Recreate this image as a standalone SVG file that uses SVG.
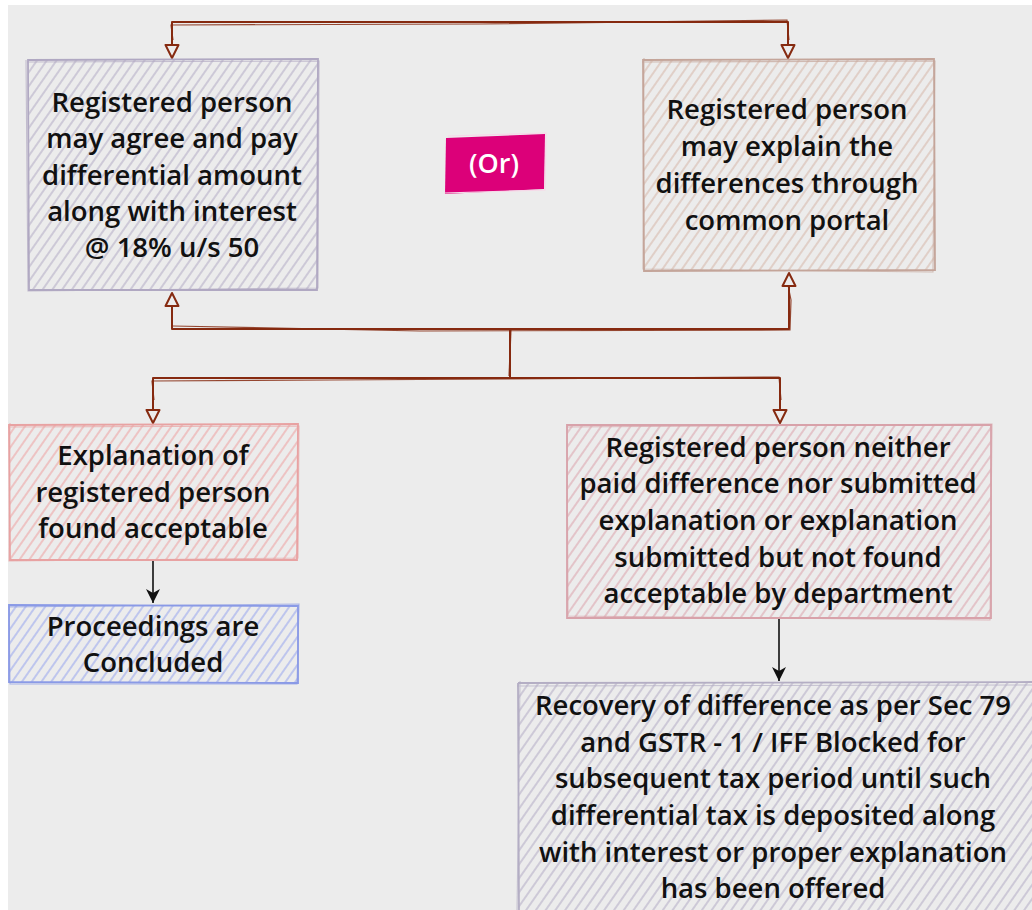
<svg xmlns="http://www.w3.org/2000/svg" width="1032" height="910" viewBox="0 0 1032 910">
  <defs>
    <style>
      .lbl { font-family: "Open Sans", "Noto Sans", sans-serif; font-size: 27.5px; font-weight: 600; fill: #111; text-anchor: middle; }
      .or { font-family: "Open Sans", "Noto Sans", sans-serif; font-size: 27px; font-weight: 600; fill: #fff; text-anchor: middle; }
      .link { fill: none; stroke: #862a10; stroke-width: 2; stroke-linejoin: round; }
      .link2 { fill: none; stroke: #862a10; stroke-width: 1.2; opacity: 0.85; }
      .flow { fill: none; stroke: #111; stroke-width: 1.6; }
      .edge { fill: none; stroke-width: 1.8; }
      .edge2 { fill: none; stroke-width: 1.1; opacity: 0.7; }
    </style>
    <pattern id="hatchGrey" patternUnits="userSpaceOnUse" width="8" height="8" patternTransform="rotate(35)">
      <rect width="8" height="8" fill="#ececec"/>
      <line x1="1" y1="0" x2="1" y2="8" stroke="#b4acc6" stroke-width="1.1"/>
    </pattern>
    <pattern id="hatchBrown" patternUnits="userSpaceOnUse" width="8" height="8" patternTransform="rotate(35)">
      <rect width="8" height="8" fill="#ececec"/>
      <line x1="1" y1="0" x2="1" y2="8" stroke="#d6b8aa" stroke-width="1.1"/>
    </pattern>
    <pattern id="hatchRed" patternUnits="userSpaceOnUse" width="8" height="8" patternTransform="rotate(35)">
      <rect width="8" height="8" fill="#ececec"/>
      <line x1="1" y1="0" x2="1" y2="8" stroke="#eea2a2" stroke-width="1.1"/>
    </pattern>
    <pattern id="hatchRose" patternUnits="userSpaceOnUse" width="8" height="8" patternTransform="rotate(35)">
      <rect width="8" height="8" fill="#ececec"/>
      <line x1="1" y1="0" x2="1" y2="8" stroke="#dca4ac" stroke-width="1.1"/>
    </pattern>
    <pattern id="hatchBlue" patternUnits="userSpaceOnUse" width="8" height="8" patternTransform="rotate(35)">
      <rect width="8" height="8" fill="#ececec"/>
      <line x1="1" y1="0" x2="1" y2="8" stroke="#98a6ee" stroke-width="1.1"/>
    </pattern>
    <marker id="openHead" markerUnits="userSpaceOnUse" markerWidth="18" markerHeight="16" refX="14" refY="8" orient="auto-start-reverse" overflow="visible">
      <path d="M1,1.5 L14,8 L1,14.5 Z" fill="#ececec" stroke="#862a10" stroke-width="2" stroke-linejoin="round"/>
    </marker>
    <marker id="solidHead" markerUnits="userSpaceOnUse" markerWidth="16" markerHeight="16" refX="14" refY="8" orient="auto" overflow="visible">
      <path d="M0,1 L14,8 L0,15 L4,8 Z" fill="#111"/>
    </marker>
  </defs>

  <!-- canvas -->
  <rect x="0" y="0" width="1032" height="910" fill="#ffffff"/>
  <rect x="8" y="5" width="1024" height="905" fill="#ececec"/>

  <!-- connectors -->
  <g id="connectors">
    <!-- top bracket: both options -->
    <path class="link" d="M172,58 L172,22 L788,22 L788,58" marker-start="url(#openHead)" marker-end="url(#openHead)"/>
    <path class="link2" d="M173,40 L171,25 L480,24 L787,20 L789,40"/>
    <!-- middle bracket back to both options -->
    <path class="link" d="M172,293 L172,329 L789,329 L789,273" marker-start="url(#openHead)" marker-end="url(#openHead)"/>
    <path class="link2" d="M173,326 L420,331 L790,330 L791,300 L788,285"/>
    <path class="link" d="M510,329 L510,378"/>
    <path class="link2" d="M511,330 L509,376"/>
    <!-- split to outcomes -->
    <path class="link" d="M153,423 L153,378 L780,378 L780,423" marker-start="url(#openHead)" marker-end="url(#openHead)"/>
    <path class="link2" d="M154,400 L152,381 L330,380 L779,377 L781,400"/>
    <!-- outcome flows -->
    <path class="flow" d="M153,561 L153,603" marker-end="url(#solidHead)"/>
    <path class="flow" d="M779,619 L779,681" marker-end="url(#solidHead)"/>
  </g>

  <!-- option 1: pay -->
  <g id="node-pay">
    <rect x="28" y="60" width="290" height="230" fill="url(#hatchGrey)"/>
    <path class="edge" stroke="#b0a8c2" d="M28,60 L318,59 L317,290 L29,290 Z"/>
    <path class="edge2" stroke="#b0a8c2" d="M27,62 L319,61 L318,288 L28,291 L26,60"/>
    <text class="lbl" x="172" y="112">Registered person</text>
    <text class="lbl" x="172" y="148">may agree and pay</text>
    <text class="lbl" x="172" y="185">differential amount</text>
    <text class="lbl" x="172" y="221">along with interest</text>
    <text class="lbl" x="172" y="257">@ 18% u/s 50</text>
  </g>

  <!-- separator badge -->
  <g id="node-or">
    <path d="M446,138 L545,134 L544,189 L445,194 Z" fill="#dc0079"/>
    <path d="M448,136 L546,133 L545,190 L444,193" fill="none" stroke="#f6d8e8" stroke-width="1.2"/>
    <text class="or" x="494" y="173">(Or)</text>
  </g>

  <!-- option 2: explain -->
  <g id="node-explain">
    <rect x="643" y="60" width="291" height="211" fill="url(#hatchBrown)"/>
    <path class="edge" stroke="#c4a59a" d="M643,60 L934,59 L935,270 L644,271 Z"/>
    <path class="edge2" stroke="#c4a59a" d="M642,62 L935,61 L933,272 L643,269 L644,58"/>
    <text class="lbl" x="787" y="119">Registered person</text>
    <text class="lbl" x="787" y="156">may explain the</text>
    <text class="lbl" x="787" y="193">differences through</text>
    <text class="lbl" x="787" y="230">common portal</text>
  </g>

  <!-- outcome: accepted -->
  <g id="node-accepted">
    <rect x="9" y="425" width="289" height="135" fill="url(#hatchRed)"/>
    <path class="edge" stroke="#e8a2a2" d="M9,425 L298,424 L297,560 L10,560 Z"/>
    <path class="edge2" stroke="#e8a2a2" d="M8,427 L299,426 L298,558 L9,561 L10,423"/>
    <text class="lbl" x="153" y="465">Explanation of</text>
    <text class="lbl" x="153" y="502">registered person</text>
    <text class="lbl" x="153" y="538">found acceptable</text>
  </g>

  <!-- concluded -->
  <g id="node-concluded">
    <rect x="9" y="605" width="289" height="78" fill="url(#hatchBlue)"/>
    <path class="edge" stroke="#8a9ae6" d="M9,605 L298,606 L298,683 L9,682 Z"/>
    <path class="edge2" stroke="#8a9ae6" d="M8,607 L299,604 L297,684 L10,684 L9,604"/>
    <text class="lbl" x="153" y="636">Proceedings are</text>
    <text class="lbl" x="153" y="672">Concluded</text>
  </g>

  <!-- outcome: not resolved -->
  <g id="node-unresolved">
    <rect x="567" y="425" width="424" height="193" fill="url(#hatchRose)"/>
    <path class="edge" stroke="#d8a2aa" d="M567,425 L991,425 L991,618 L567,618 Z"/>
    <path class="edge2" stroke="#d8a2aa" d="M566,427 L992,424 L990,620 L568,616 L567,424"/>
    <text class="lbl" x="778" y="457">Registered person neither</text>
    <text class="lbl" x="778" y="493">paid difference nor submitted</text>
    <text class="lbl" x="778" y="530">explanation or explanation</text>
    <text class="lbl" x="778" y="567">submitted but not found</text>
    <text class="lbl" x="778" y="603">acceptable by department</text>
  </g>

  <!-- recovery -->
  <g id="node-recovery">
    <rect x="518" y="683" width="520" height="232" fill="url(#hatchGrey)"/>
    <path class="edge" stroke="#b4aec4" d="M518,683 L1036,682 M518,683 L519,915"/>
    <path class="edge2" stroke="#b4aec4" d="M517,686 L1036,685 M520,681 L517,915"/>
    <text class="lbl" x="773" y="715">Recovery of difference as per Sec 79</text>
    <text class="lbl" x="773" y="752">and GSTR - 1 / IFF Blocked for</text>
    <text class="lbl" x="773" y="788">subsequent tax period until such</text>
    <text class="lbl" x="773" y="825">differential tax is deposited along</text>
    <text class="lbl" x="773" y="862">with interest or proper explanation</text>
    <text class="lbl" x="773" y="898">has been offered</text>
  </g>
</svg>
